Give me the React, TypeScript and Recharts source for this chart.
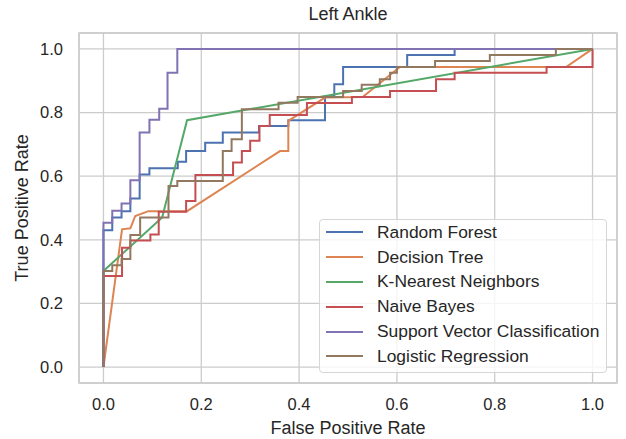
import React from "react";
import {
  LineChart,
  Line,
  XAxis,
  YAxis,
  CartesianGrid,
  ReferenceArea,
} from "recharts";

// ROC points (fpr / tpr pairs per model)
const rfFpr = [0, 0, 0.018, 0.018, 0.037, 0.037, 0.055, 0.055, 0.074, 0.074, 0.094, 0.094, 0.152, 0.152, 0.169, 0.169, 0.208, 0.208, 0.244, 0.244, 0.318, 0.318, 0.378, 0.378, 0.453, 0.453, 0.472, 0.472, 0.49, 0.49, 0.621, 0.621, 0.718, 0.718, 1];
const rfTpr = [0, 0.43, 0.43, 0.47, 0.47, 0.49, 0.49, 0.53, 0.53, 0.605, 0.605, 0.625, 0.625, 0.645, 0.645, 0.679, 0.679, 0.705, 0.705, 0.737, 0.737, 0.758, 0.758, 0.776, 0.776, 0.852, 0.852, 0.889, 0.889, 0.943, 0.943, 0.981, 0.981, 1, 1];

const dtFpr = [0, 0.038, 0.055, 0.065, 0.092, 0.171, 0.361, 0.378, 0.378, 0.453, 0.53, 0.606, 0.946, 1];
const dtTpr = [0, 0.433, 0.436, 0.475, 0.49, 0.49, 0.679, 0.679, 0.774, 0.847, 0.849, 0.943, 0.943, 1];

const knnFpr = [0, 0, 0.12, 0.171, 1];
const knnTpr = [0, 0.302, 0.47, 0.776, 1];

const nbFpr = [0, 0, 0.038, 0.038, 0.055, 0.055, 0.096, 0.096, 0.113, 0.113, 0.169, 0.169, 0.188, 0.188, 0.265, 0.265, 0.283, 0.283, 0.3, 0.3, 0.319, 0.319, 0.34, 0.34, 0.416, 0.416, 0.508, 0.508, 0.586, 0.586, 0.68, 0.68, 0.718, 0.718, 0.906, 0.906, 1, 1];
const nbTpr = [0, 0.286, 0.286, 0.375, 0.375, 0.398, 0.398, 0.417, 0.417, 0.488, 0.488, 0.522, 0.522, 0.604, 0.604, 0.643, 0.643, 0.679, 0.679, 0.711, 0.711, 0.758, 0.758, 0.792, 0.792, 0.83, 0.83, 0.849, 0.849, 0.868, 0.868, 0.905, 0.905, 0.925, 0.925, 0.943, 0.943, 1];

const svcFpr = [0, 0, 0.018, 0.018, 0.037, 0.037, 0.055, 0.055, 0.074, 0.074, 0.094, 0.094, 0.114, 0.114, 0.131, 0.131, 0.151, 0.151, 1];
const svcTpr = [0, 0.454, 0.454, 0.491, 0.491, 0.514, 0.514, 0.587, 0.587, 0.737, 0.737, 0.777, 0.777, 0.812, 0.812, 0.925, 0.925, 1, 1];

const lrFpr = [0, 0, 0.018, 0.018, 0.037, 0.037, 0.055, 0.055, 0.075, 0.075, 0.133, 0.133, 0.151, 0.151, 0.244, 0.244, 0.262, 0.262, 0.283, 0.283, 0.358, 0.358, 0.397, 0.397, 0.49, 0.49, 0.528, 0.528, 0.565, 0.565, 0.586, 0.586, 0.6, 0.6, 0.678, 0.678, 0.79, 0.79, 0.925, 0.925, 1];
const lrTpr = [0, 0.302, 0.302, 0.32, 0.32, 0.34, 0.34, 0.415, 0.415, 0.47, 0.47, 0.569, 0.569, 0.585, 0.585, 0.679, 0.679, 0.716, 0.716, 0.81, 0.81, 0.831, 0.831, 0.849, 0.849, 0.868, 0.868, 0.887, 0.887, 0.905, 0.905, 0.925, 0.925, 0.943, 0.943, 0.962, 0.962, 0.981, 0.981, 1, 1];

const ticks = [0, 0.2, 0.4, 0.6, 0.8, 1.0];

const zip = (fpr: number[], tpr: number[]) =>
  fpr.map((x, i) => ({ fpr: x, tpr: tpr[i] }));

const series = [
  { name: "Random Forest", color: "#4c72b0", data: zip(rfFpr, rfTpr) },
  { name: "Decision Tree", color: "#dd8452", data: zip(dtFpr, dtTpr) },
  { name: "K-Nearest Neighbors", color: "#55a868", data: zip(knnFpr, knnTpr) },
  { name: "Naive Bayes", color: "#c44e52", data: zip(nbFpr, nbTpr) },
  { name: "Support Vector Classification", color: "#8172b3", data: zip(svcFpr, svcTpr) },
  { name: "Logistic Regression", color: "#937860", data: zip(lrFpr, lrTpr) },
];

const font = "Arial, 'Liberation Sans', sans-serif";
const ink = "#262626";

// matplotlib-style legend box, placed over the lower right of the plot
const LegendBox = () => (
  <div
    style={{
      position: "absolute",
      left: 319,
      top: 219,
      width: 288,
      height: 154,
      boxSizing: "border-box",
      background: "rgba(255,255,255,0.8)",
      border: "1px solid #d6d6d6",
      borderRadius: 4,
      padding: "0 0 0 6px",
      fontFamily: font,
      fontSize: 17.4,
      color: ink,
    }}
  >
    {series.map((s) => (
      <div key={s.name} style={{ display: "flex", alignItems: "center", height: 24.8 }}>
        <div style={{ width: 37, height: 2, background: s.color, marginRight: 14 }} />
        <span>{s.name}</span>
      </div>
    ))}
  </div>
);

export default function App() {
  return (
    <div style={{ position: "absolute", left: 0, top: 0, width: 626, height: 439, background: "#fff" }}>
      <div
        style={{
          position: "absolute",
          left: 79,
          width: 538,
          top: 4,
          textAlign: "center",
          fontFamily: font,
          fontSize: 18,
          color: ink,
        }}
      >
        Left Ankle
      </div>
      <LineChart
        width={626}
        height={439}
        margin={{ top: 33, right: 9, left: 0, bottom: 0 }}
        style={{ fontFamily: font }}
      >
        <CartesianGrid stroke="#cccccc" strokeWidth={1.3} />
        <ReferenceArea
          x1={-0.05}
          x2={1.05}
          y1={-0.05}
          y2={1.05}
          fill="none"
          stroke="#cccccc"
          strokeWidth={1.5}
          ifOverflow="visible"
        />
        <XAxis
          dataKey="fpr"
          type="number"
          domain={[-0.05, 1.05]}
          ticks={ticks}
          tickFormatter={(v: number) => v.toFixed(1)}
          axisLine={false}
          tickLine={false}
          tickSize={0}
          tickMargin={15}
          height={56}
          tick={{ fill: ink, fontSize: 16.5 }}
          label={{ value: "False Positive Rate", position: "insideBottom", offset: 5, fill: ink, fontSize: 18 }}
        />
        <YAxis
          dataKey="tpr"
          type="number"
          domain={[-0.05, 1.05]}
          ticks={ticks}
          tickFormatter={(v: number) => v.toFixed(1)}
          axisLine={false}
          tickLine={false}
          tickSize={0}
          tickMargin={16}
          width={79}
          tick={{ fill: ink, fontSize: 16.5 }}
          label={{ value: "True Positive Rate", angle: -90, position: "insideLeft", offset: 22, fill: ink, fontSize: 18, style: { textAnchor: "middle" } }}
        />
        {series.map((s) => (
          <Line
            key={s.name}
            data={s.data}
            dataKey="tpr"
            name={s.name}
            type="linear"
            stroke={s.color}
            strokeWidth={2}
            dot={false}
            activeDot={false}
            isAnimationActive={false}
          />
        ))}
      </LineChart>
      <LegendBox />
    </div>
  );
}
